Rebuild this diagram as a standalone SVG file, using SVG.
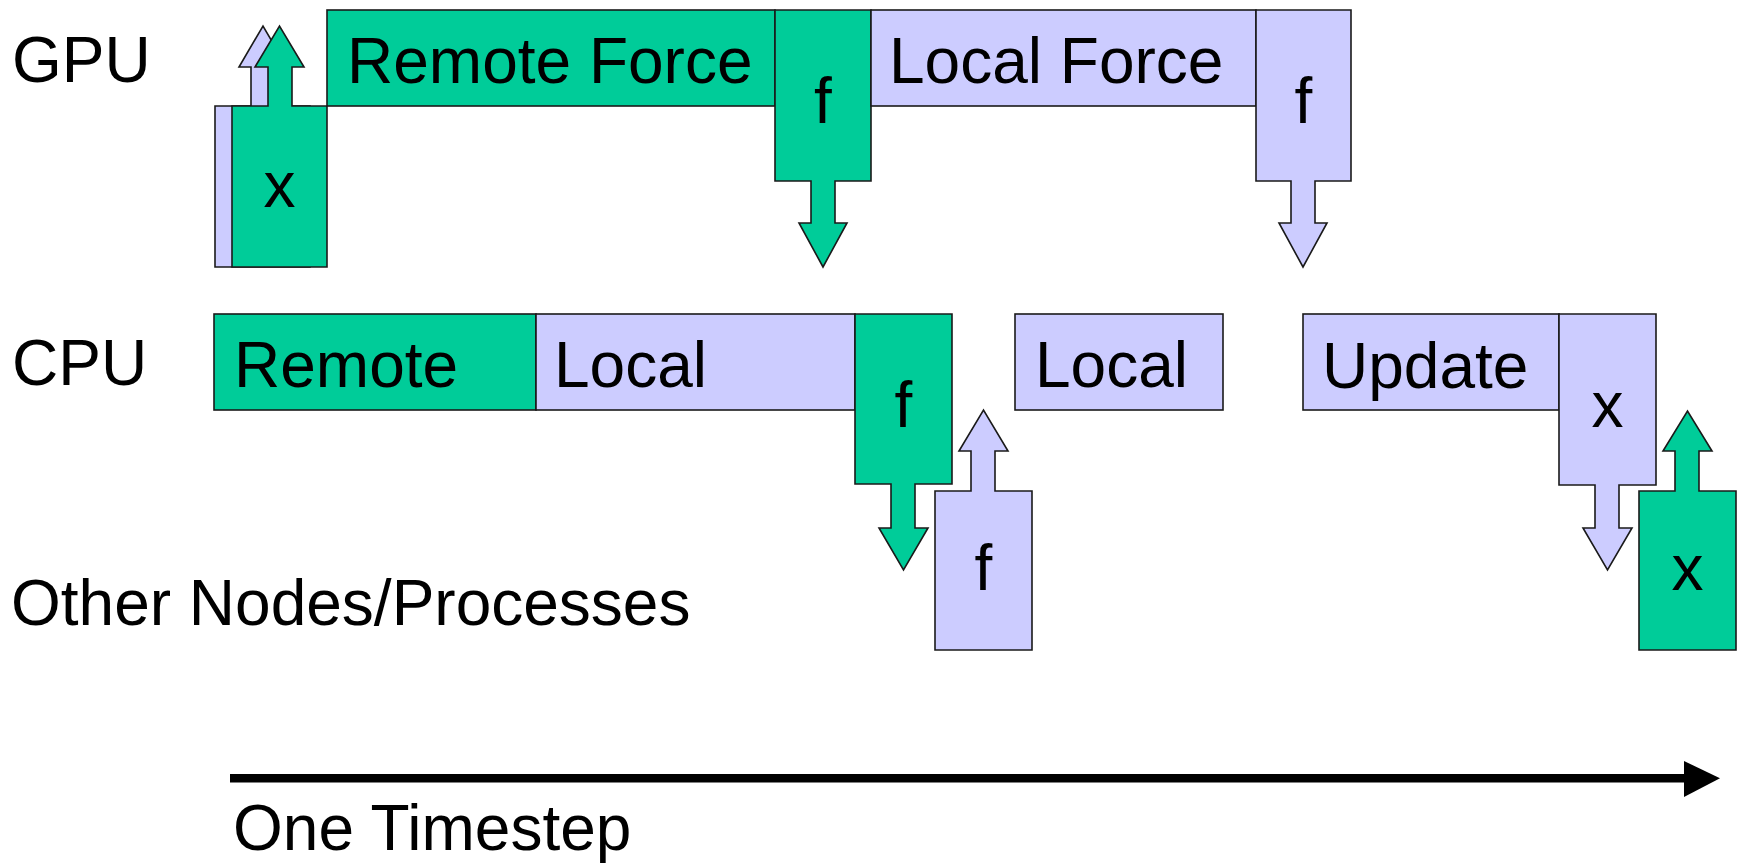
<svg xmlns="http://www.w3.org/2000/svg" width="1744" height="863" viewBox="0 0 1744 863">
<style>
.g{fill:#00CC99;stroke:#1a1a1a;stroke-width:1.6;stroke-linejoin:miter}
.l{fill:#CCCCFF;stroke:#1a1a1a;stroke-width:1.6;stroke-linejoin:miter}
text{font-family:"Liberation Sans",Arial,sans-serif;font-size:64px;fill:#000}
.c{text-anchor:middle}
</style>
<rect width="1744" height="863" fill="#fff"/>
<g id="labels">
<text x="12" y="82">GPU</text>
<text x="12" y="385">CPU</text>
<text x="11" y="625">Other Nodes/Processes</text>
</g>
<g id="gpu-x-lav">
<path class="l" d="M215,106 H251 V67 H239 L263,26 L287,67 H275 V106 H310 V267 H215 Z"/>
</g>
<g id="gpu-x">
<path class="g" d="M232,106 H268 V67 H255 L279.5,26 L304,67 H292 V106 H327 V267 H232 Z"/>
<text class="c" x="279.5" y="207">x</text>
</g>
<g id="gpu-remote-force">
<rect class="g" x="327" y="10" width="448" height="96"/>
<text x="347" y="83">Remote Force</text>
</g>
<g id="gpu-f-green">
<path class="g" d="M775,10 H871 V181 H835 V223 H847 L823,267 L799,223 H811 V181 H775 Z"/>
<text class="c" x="823" y="123">f</text>
</g>
<g id="gpu-local-force">
<rect class="l" x="871" y="10" width="385" height="96"/>
<text x="889" y="83">Local Force</text>
</g>
<g id="gpu-f-lav">
<path class="l" d="M1256,10 H1351 V181 H1315 V223 H1327 L1303,267 L1279,223 H1291 V181 H1256 Z"/>
<text class="c" x="1303.5" y="123">f</text>
</g>
<g id="cpu-remote">
<rect class="g" x="214" y="314" width="322" height="96"/>
<text x="234" y="387">Remote</text>
</g>
<g id="cpu-local">
<rect class="l" x="536" y="314" width="319" height="96"/>
<text x="554" y="387">Local</text>
</g>
<g id="cpu-f-green">
<path class="g" d="M855,314 H952 V484 H915 V528 H928 L903.5,570 L879,528 H891 V484 H855 Z"/>
<text class="c" x="903.5" y="427">f</text>
</g>
<g id="other-f-lav">
<path class="l" d="M935,491 H971 V451 H959 L983.5,410 L1008,451 H995 V491 H1032 V650 H935 Z"/>
<text class="c" x="983.5" y="590">f</text>
</g>
<g id="cpu-local-2">
<rect class="l" x="1015" y="314" width="208" height="96"/>
<text x="1035" y="387">Local</text>
</g>
<g id="cpu-update">
<rect class="l" x="1303" y="314" width="256" height="96"/>
<text x="1322" y="388">Update</text>
</g>
<g id="cpu-x-lav">
<path class="l" d="M1559,314 H1656 V485 H1619 V528 H1632 L1607.5,570 L1583,528 H1595 V485 H1559 Z"/>
<text class="c" x="1607.5" y="427">x</text>
</g>
<g id="other-x-green">
<path class="g" d="M1639,491 H1675 V451 H1663 L1687.5,411 L1712,451 H1699 V491 H1736 V650 H1639 Z"/>
<text class="c" x="1687.5" y="590">x</text>
</g>
<g id="connectors">
<rect x="230" y="774" width="1456" height="8.5" fill="#000"/>
<polygon points="1684,761 1720,778.2 1684,797" fill="#000"/>
</g>
<g id="timeline-label">
<text x="233" y="850">One Timestep</text>
</g>
</svg>
